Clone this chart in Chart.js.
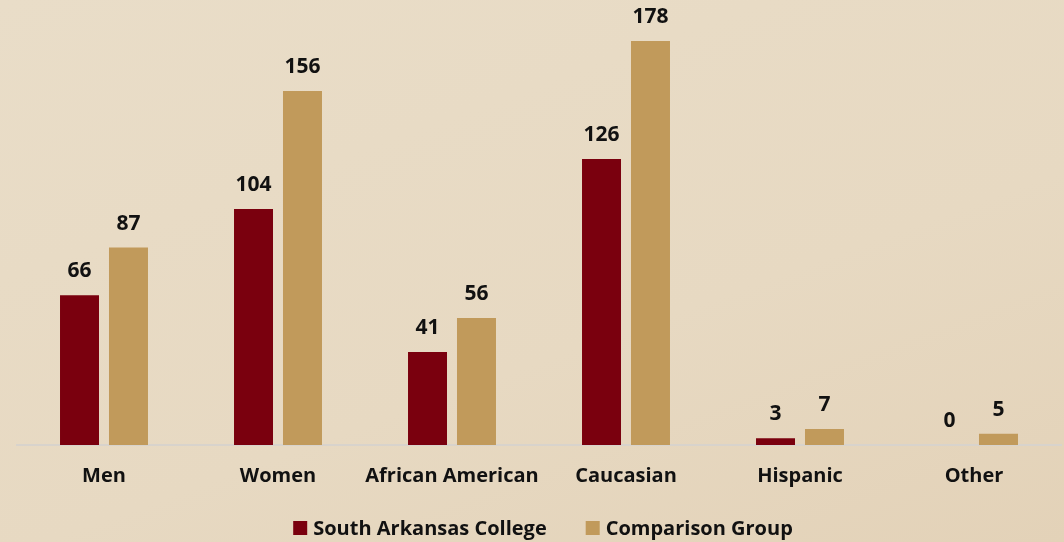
<!DOCTYPE html>
<html>
<head>
<meta charset="utf-8">
<script src="https://cdn.jsdelivr.net/npm/chart.js@4.4.1/dist/chart.umd.min.js"></script>
<style>
  html, body { margin: 0; padding: 0; }
  body { width: 1064px; height: 542px; background: linear-gradient(160deg, #e9ddc8 0%, #e7d9c2 60%, #e3d2b8 100%); }
  #wrap { position: relative; width: 1064px; height: 542px; }
</style>
</head>
<body>
<div id="wrap"><canvas id="chart"></canvas></div>
<script>
// categories + the two series
const categories = ['Men', 'Women', 'African American', 'Caucasian', 'Hispanic', 'Other'];
const collegeValues = [66, 104, 41, 126, 3, 0];
const comparisonValues = [87, 156, 56, 178, 7, 5];
const seriesNames = ['South Arkansas College', 'Comparison Group'];

const FONT = '"Open Sans", "Liberation Sans", sans-serif';

// numbers above each bar
const barLabels = {
  id: 'barLabels',
  afterDatasetsDraw(chart){
    const ctx = chart.ctx;
    ctx.save();
    ctx.font = 'bold 21px ' + FONT;
    ctx.fillStyle = '#111';
    ctx.textAlign = 'center';
    ctx.textBaseline = 'middle';
    chart.data.datasets.forEach((ds, i)=>{
      chart.getDatasetMeta(i).data.forEach((bar, j)=>{
        ctx.fillText(String(ds.data[j]), bar.x, bar.y - 24);
      });
    });
    ctx.restore();
  }
};

// legend drawn by hand so the item gap and height can differ
const bottomLegend = {
  id: 'bottomLegend',
  afterDraw(chart){
    const ctx = chart.ctx;
    const box = 14, gapText = 6, gapItem = 39, y = 528, shift = 11;
    ctx.save();
    ctx.font = 'bold 20px ' + FONT;
    ctx.textBaseline = 'middle';
    const items = chart.data.datasets.map(ds=>({ text: ds.label, color: ds.backgroundColor, w: ctx.measureText(ds.label).width }));
    let total = 0;
    items.forEach((it, i)=>{ total += box + gapText + it.w + (i ? gapItem : 0); });
    let x = (chart.width - total) / 2 + shift;
    items.forEach(it=>{
      ctx.fillStyle = it.color;
      ctx.fillRect(x, y - box/2, box, box);
      ctx.fillStyle = '#111';
      ctx.fillText(it.text, x + box + gapText, y + 1);
      x += box + gapText + it.w + gapItem;
    });
    ctx.restore();
  }
};

new Chart(document.getElementById('chart').getContext('2d'), {
  type: 'bar',
  data: {
    labels: categories,
    datasets: [
      { label: seriesNames[0], data: collegeValues, backgroundColor: '#7a000e' },
      { label: seriesNames[1], data: comparisonValues, backgroundColor: '#c19a5b' }
    ]
  },
  options: {
    responsive: true,
    maintainAspectRatio: false,
    animation: false,
    layout: { padding: { top: 41, left: 17, right: 3, bottom: 43 } },
    datasets: { bar: { categoryPercentage: 0.563, barPercentage: 0.796 } },
    plugins: {
      tooltip: { enabled: false },
      legend: { display: false }
    },
    scales: {
      y: { display: false, min: 0, max: 178 },
      x: {
        grid: { display: false },
        border: { color: '#d8d3cc', width: 2 },
        ticks: { color: '#111', padding: 11, autoSkip: false, maxRotation: 0, minRotation: 0, font: { family: FONT, size: 20, weight: 'bold' } }
      }
    }
  },
  plugins: [barLabels, bottomLegend]
});
</script>
</body>
</html>
